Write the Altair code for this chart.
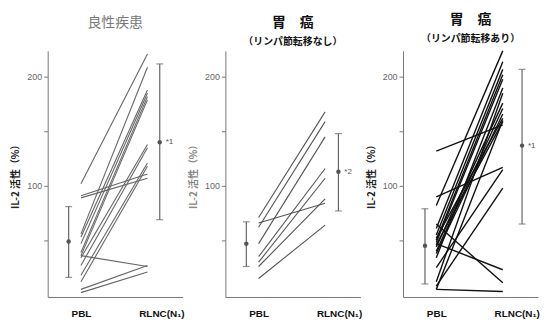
import altair as alt
import pandas as pd

titles = ["良性疾患", "胃　癌", "胃　癌"]
subtitles = [" ", "（リンパ節転移なし）", "（リンパ節転移あり）"]
title_colors = ["#777777", "#111111", "#111111"]
title_weights = ["normal", "bold", "bold"]
line_colors = ["#666666", "#555555", "#111111"]
line_widths = [1.1, 1.1, 1.4]
ytitle_colors = ["#222222", "#888888", "#222222"]

# individual patients: PBL value, RLNC value
pbl_1 = [102, 91, 89, 56, 53, 47, 39, 36, 36, 34, 27, 18, 12, 5, 2]
rlnc_1 = [221, 111, 107, 209, 188, 185, 182, 179, 26, 138, 135, 121, 118, 27, 21]

pbl_2 = [71, 66, 62, 47, 35, 30, 26, 15]
rlnc_2 = [168, 84, 159, 145, 116, 107, 88, 64]

pbl_3 = [132, 90, 82, 65, 61, 55, 52, 50, 48, 47, 46, 44, 40, 38, 34, 25, 12, 8, 5, 5]
rlnc_3 = [156, 117, 224, 11, 214, 207, 162, 202, 198, 23, 159, 176, 171, 166, 190, 115, 185, 98, 3, 160]

# mean +- SD
pbl_mean = [49, 47, 45]
pbl_hi = [81, 67, 79]
pbl_lo = [16, 26, 10]
rlnc_mean = [140, 113, 137]
rlnc_hi = [212, 148, 207]
rlnc_lo = [69, 77, 65]
notes = ["*1", "*2", "*1"]

pbls = [pbl_1, pbl_2, pbl_3]
rlncs = [rlnc_1, rlnc_2, rlnc_3]
bar_pos_pbl = [0.63, 0.63, 0.66]
bar_pos_rlnc = [3.37, 3.4, 3.58]

W = 136
H = 248
XMAX = 4.06
YDOM = [-2, 224]


def panel(i):
    rows = []
    for k, (a, b) in enumerate(zip(pbls[i], rlncs[i])):
        rows.append({"id": k, "x": 1.0, "v": a})
        rows.append({"id": k, "x": 3.0, "v": b})
    df = pd.DataFrame(rows)
    xs = alt.Scale(domain=[0, XMAX], nice=False, zero=False)
    ys = alt.Scale(domain=YDOM, nice=False, zero=False)
    xaxis = alt.Axis(values=[1, 3.42], labelExpr="datum.value < 2 ? 'PBL' : 'RLNC(N₁)'",
                     ticks=False, grid=False, title=None, domainColor="#777777",
                     labelFontWeight="bold", labelFontSize=10, labelColor="#111111",
                     labelPadding=12, labelFont="Liberation Sans")
    yaxis = alt.Axis(values=[50, 100, 150, 200],
                     labelExpr="datum.value % 100 == 0 ? datum.label : ''",
                     grid=False, title="IL-2 活性（%）", tickSize=4, tickColor="#777777",
                     domainColor="#777777", labelColor="#666666", labelFontSize=9,
                     titleFontSize=10, titleFontWeight="bold", titleColor=ytitle_colors[i],
                     titlePadding=6, labelPadding=2, titleFont="Noto Sans CJK JP")
    lines = alt.Chart(df).mark_line(color=line_colors[i], strokeWidth=line_widths[i]).encode(
        x=alt.X("x:Q", scale=xs, axis=xaxis),
        y=alt.Y("v:Q", scale=ys, axis=yaxis),
        detail="id:N",
    )
    eb = pd.DataFrame({
        "x": [bar_pos_pbl[i], bar_pos_rlnc[i]],
        "m": [pbl_mean[i], rlnc_mean[i]],
        "hi": [pbl_hi[i], rlnc_hi[i]],
        "lo": [pbl_lo[i], rlnc_lo[i]],
        "note": ["", notes[i]],
    })
    base = alt.Chart(eb)
    rule = base.mark_rule(color="#666666", strokeWidth=1.2).encode(
        x=alt.X("x:Q", scale=xs), y=alt.Y("lo:Q", scale=ys), y2="hi:Q")
    cap_hi = base.mark_tick(color="#666666", orient="horizontal", size=7, thickness=1.2).encode(
        x=alt.X("x:Q", scale=xs), y=alt.Y("hi:Q", scale=ys))
    cap_lo = base.mark_tick(color="#666666", orient="horizontal", size=7, thickness=1.2).encode(
        x=alt.X("x:Q", scale=xs), y=alt.Y("lo:Q", scale=ys))
    pt = base.mark_point(filled=True, color="#555555", size=20, opacity=1).encode(
        x=alt.X("x:Q", scale=xs), y=alt.Y("m:Q", scale=ys))
    txt = base.mark_text(align="left", dx=6, fontSize=8, color="#555555").encode(
        x=alt.X("x:Q", scale=xs), y=alt.Y("m:Q", scale=ys), text="note:N")
    return alt.layer(lines, rule, cap_hi, cap_lo, pt, txt).properties(
        width=W, height=H,
        title=alt.TitleParams(text=titles[i], subtitle=subtitles[i], fontSize=14,
                              fontWeight=title_weights[i], color=title_colors[i],
                              subtitleFontSize=10, subtitleFontWeight="bold",
                              subtitleColor="#111111", subtitlePadding=7, offset=4,
                              font="Noto Sans CJK JP", subtitleFont="Noto Sans CJK JP",
                              anchor="middle"),
    )


chart = alt.hconcat(panel(0), panel(1), panel(2), spacing=3).properties(
    padding={"left": 2, "top": 4, "right": 0, "bottom": 0}
).configure_view(stroke=None).configure_axis(labelFont="Liberation Sans")

chart.save("out.html", embed_options={"renderer": "svg", "actions": False})
